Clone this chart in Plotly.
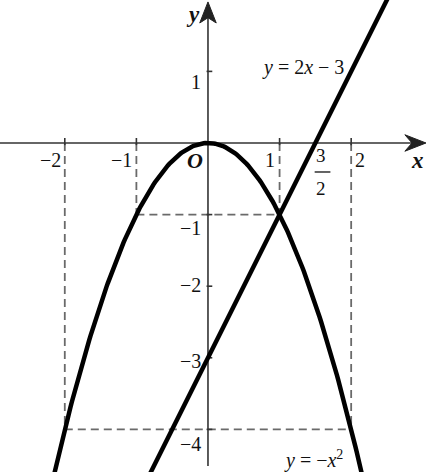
import numpy as np
import plotly.graph_objects as go

# ---- data ----
parab_x = np.linspace(-2.2, 2.2, 221)          # y = -x^2
parab_y = -parab_x ** 2
line_x = [-0.9, 2.6]                            # y = 2x - 3
line_y = [2 * v - 3 for v in line_x]
x_ticks = [-2, -1, 1, 2]
x_tick_labels = ["−2", "−1", "1", "2"]
y_ticks = [1, -1, -2, -3, -4]
y_tick_labels = ["1", "−1", "−2", "−3", "−4"]
guide_x = [-2, -1, 1, 2]                        # dashed guide abscissas
guide_y = [-(v ** 2) for v in guide_x]          # points on the parabola

FONT = "Liberation Serif"
INK = "#111111"
DASH = "#6a6a6a"

fig = go.Figure()

# dashed guides: vertical from axis down to the curve, horizontal pairs
for gx, gy in zip(guide_x, guide_y):
    fig.add_trace(go.Scatter(x=[gx, gx], y=[0, gy], mode="lines",
                             line=dict(color=DASH, width=1.8, dash="8px,5px"),
                             hoverinfo="skip", showlegend=False))
for a, b in [(0, 3), (1, 2)]:
    fig.add_trace(go.Scatter(x=[guide_x[a], guide_x[b]], y=[guide_y[a], guide_y[b]],
                             mode="lines", line=dict(color=DASH, width=1.8, dash="8px,5px"),
                             hoverinfo="skip", showlegend=False))

# axes
fig.add_trace(go.Scatter(x=[-3.0, 2.9], y=[0, 0], mode="lines",
                         line=dict(color="#333333", width=1.6),
                         hoverinfo="skip", showlegend=False))
fig.add_trace(go.Scatter(x=[0, 0], y=[-4.51, 1.8], mode="lines",
                         line=dict(color="#333333", width=1.6),
                         hoverinfo="skip", showlegend=False))

# tick marks
for t in x_ticks:
    fig.add_trace(go.Scatter(x=[t, t], y=[-0.03, 0.07], mode="lines",
                             line=dict(color="#333333", width=1.6),
                             hoverinfo="skip", showlegend=False))
for t in y_ticks:
    fig.add_trace(go.Scatter(x=[-0.02, 0.06], y=[t, t], mode="lines",
                             line=dict(color="#333333", width=1.6),
                             hoverinfo="skip", showlegend=False))

# curves
fig.add_trace(go.Scatter(x=parab_x, y=parab_y, mode="lines",
                         line=dict(color="black", width=4.5),
                         hoverinfo="skip", showlegend=False))
fig.add_trace(go.Scatter(x=line_x, y=line_y, mode="lines",
                         line=dict(color="black", width=4.5),
                         hoverinfo="skip", showlegend=False))

# arrow heads
fig.add_shape(type="path", xref="x", yref="y",
              path="M 3.045 0 L 2.75 0.115 L 2.85 0 L 2.75 -0.115 Z",
              fillcolor="#222222", line=dict(color="#222222", width=1))
fig.add_shape(type="path", xref="x", yref="y",
              path="M 0 1.97 L -0.115 1.676 L 0 1.75 L 0.115 1.676 Z",
              fillcolor="#222222", line=dict(color="#222222", width=1))

# fraction bar for 3/2
fig.add_shape(type="line", xref="x", yref="y", x0=1.49, x1=1.71, y0=-0.405, y1=-0.405,
              line=dict(color=INK, width=1.3))

ann = []
def txt(x, y, s, size=20, xa="center", ya="middle"):
    ann.append(dict(x=x, y=y, xref="x", yref="y", text=s, showarrow=False,
                    xanchor=xa, yanchor=ya, font=dict(family=FONT, size=size, color=INK)))

# x tick labels
x_lab_pos = [(-2.03, "right"), (-1.03, "right"), (0.96, "right"), (2.03, "left")]
for (px_, xa), s in zip(x_lab_pos, x_tick_labels):
    txt(px_, -0.24, s, xa=xa)
# y tick labels
y_lab_y = [0.85, -1.19, -1.99, -3.05, -4.2]
for yy, s in zip(y_lab_y, y_tick_labels):
    txt(-0.07, yy, s, xa="right")

txt(-0.18, -0.24, "<b><i>O</i></b>", size=22)
txt(2.92, -0.24, "<b><i>x</i></b>", size=23)
txt(-0.21, 1.8, "<b><i>y</i></b>", size=23)
txt(1.585, -0.17, "3", size=19)
txt(1.585, -0.63, "2", size=19)
txt(1.33, 1.06, "<i>y</i> = 2<i>x</i> − 3", size=20)
txt(1.47, -4.42, "<i>y</i> = −<i>x</i><sup>2</sup>", size=20)

fig.update_layout(
    width=430, height=472, margin=dict(l=0, r=0, t=0, b=0),
    paper_bgcolor="white", plot_bgcolor="white",
    xaxis=dict(range=[-2.905, 3.101], visible=False, fixedrange=True),
    yaxis=dict(range=[-4.595, 1.997], visible=False, fixedrange=True),
    annotations=ann, showlegend=False,
)

fig.write_html("out.html", config={"displayModeBar": False},
               post_script="document.body.style.margin='0';document.body.style.overflow='hidden';")
